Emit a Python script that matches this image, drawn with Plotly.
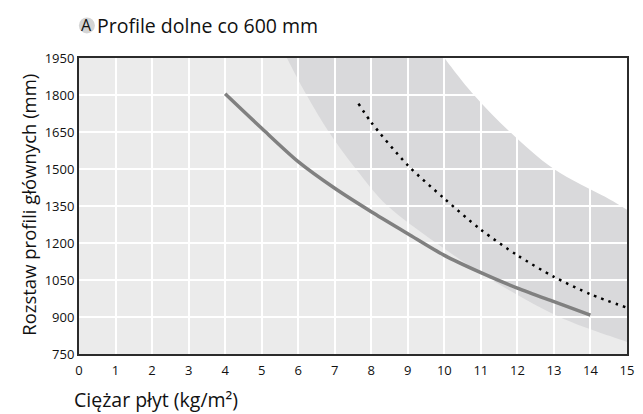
import plotly.graph_objects as go

# ---- data ----
x_ticks = list(range(0, 16))
y_ticks = [750, 900, 1050, 1200, 1350, 1500, 1650, 1800, 1950]

solid_x = [4, 5, 6, 7, 8, 9, 10, 11, 12, 13, 14]
solid_y = [1805, 1665, 1530, 1422, 1327, 1238, 1150, 1080, 1017, 962, 908]

dotted_x = [7.65, 8, 9, 10, 11, 12, 13, 14, 15]
dotted_y = [1765, 1689, 1515, 1380, 1254, 1150, 1063, 992, 938]

# boundary light / dark region
lower_x = [5.69, 6.23, 6.84, 7.58, 8.45, 9.78, 11.3, 13.15, 15.0]
lower_y = [1950, 1800, 1650, 1500, 1350, 1200, 1050, 900, 799]
# boundary dark / white region
upper_x = [10.0, 10.81, 11.8, 13.0, 14.4, 15.0]
upper_y = [1950, 1800, 1650, 1500, 1387, 1335]

X_MIN, X_MAX = 0, 15
Y_MIN, Y_MAX = 750, 1950


def smooth_path(xs, ys):
    """Catmull-Rom curve through points, as SVG cubic segments."""
    pts = list(zip(xs, ys))
    n = len(pts)
    d = f"M {pts[0][0]},{pts[0][1]}"
    for i in range(n - 1):
        p0 = pts[i - 1] if i > 0 else pts[i]
        p1 = pts[i]
        p2 = pts[i + 1]
        p3 = pts[i + 2] if i + 2 < n else pts[i + 1]
        c1 = (p1[0] + (p2[0] - p0[0]) / 6, p1[1] + (p2[1] - p0[1]) / 6)
        c2 = (p2[0] - (p3[0] - p1[0]) / 6, p2[1] - (p3[1] - p1[1]) / 6)
        d += f" C {c1[0]},{c1[1]} {c2[0]},{c2[1]} {p2[0]},{p2[1]}"
    return d


dark_path = smooth_path(lower_x, lower_y) + f" L {X_MAX},{Y_MAX} Z"
white_path = smooth_path(upper_x, upper_y) + f" L {X_MAX},{Y_MAX} Z"

FONT = "Open Sans"

fig = go.Figure()

fig.add_trace(go.Scatter(
    x=solid_x, y=solid_y, mode="lines",
    line=dict(color="#808080", width=3.5, shape="spline", smoothing=0.8),
    hoverinfo="skip", showlegend=False))

fig.add_trace(go.Scatter(
    x=dotted_x, y=dotted_y, mode="lines",
    line=dict(color="#000000", width=2.5, dash="2.5px,5.2px", shape="spline", smoothing=0.8),
    hoverinfo="skip", showlegend=False))

shapes = [
    dict(type="path", path=dark_path, xref="x", yref="y", layer="below",
         fillcolor="#d9d9db", line=dict(width=0)),
    dict(type="path", path=white_path, xref="x", yref="y", layer="below",
         fillcolor="#ffffff", line=dict(width=0)),
    # circle badge behind "A"
    dict(type="circle", xref="paper", yref="paper", xsizemode="pixel", ysizemode="pixel",
         xanchor=0.0144, yanchor=1.110, x0=-8, x1=8, y0=-8, y1=8,
         fillcolor="#d4d4d4", line=dict(width=0), layer="above"),
]

annotations = [
    dict(text="A", xref="paper", yref="paper", x=0.0144, y=1.110, xanchor="center", yanchor="middle",
         showarrow=False, font=dict(family=FONT, size=16, color="#111")),
    dict(text="Profile dolne co 600 mm", xref="paper", yref="paper", x=0.030, y=1.110,
         xanchor="left", yanchor="middle", showarrow=False,
         font=dict(family=FONT, size=19.5, color="#111")),
    dict(text="Ciężar płyt (kg/m²)", xref="paper", yref="paper", x=-0.0126, y=-0.155,
         xanchor="left", yanchor="middle", showarrow=False,
         font=dict(family=FONT, size=19.5, color="#111")),
    dict(text="Rozstaw profili głównych (mm)", xref="paper", yref="paper", x=-0.0937, y=0.503,
         xanchor="center", yanchor="middle", textangle=-90, showarrow=False,
         font=dict(family=FONT, size=18.5, color="#111")),
]

fig.update_layout(
    width=643, height=414,
    margin=dict(l=79, r=9, t=58, b=60),
    paper_bgcolor="#ffffff",
    plot_bgcolor="#ebebeb",
    shapes=shapes,
    annotations=annotations,
    font=dict(family=FONT, size=13, color="#111"),
    showlegend=False,
)

fig.update_xaxes(
    range=[X_MIN, X_MAX], tickvals=x_ticks, ticktext=[str(v) for v in x_ticks],
    showgrid=True, gridcolor="#ffffff", gridwidth=1.5,
    showline=True, linecolor="#2b2b2b", linewidth=2, mirror=True,
    ticks="", zeroline=False, tickfont=dict(size=13), ticklabelstandoff=3,
)
fig.update_yaxes(
    range=[Y_MIN, Y_MAX], tickvals=y_ticks, ticktext=[str(v) for v in y_ticks],
    showgrid=True, gridcolor="#ffffff", gridwidth=1.5,
    showline=True, linecolor="#2b2b2b", linewidth=2, mirror=True,
    ticks="", zeroline=False, tickfont=dict(size=13),
)

fig.write_html(
    "out.html",
    config={"displayModeBar": False},
    post_script="document.body.style.margin='0';document.body.style.overflow='hidden';",
)
